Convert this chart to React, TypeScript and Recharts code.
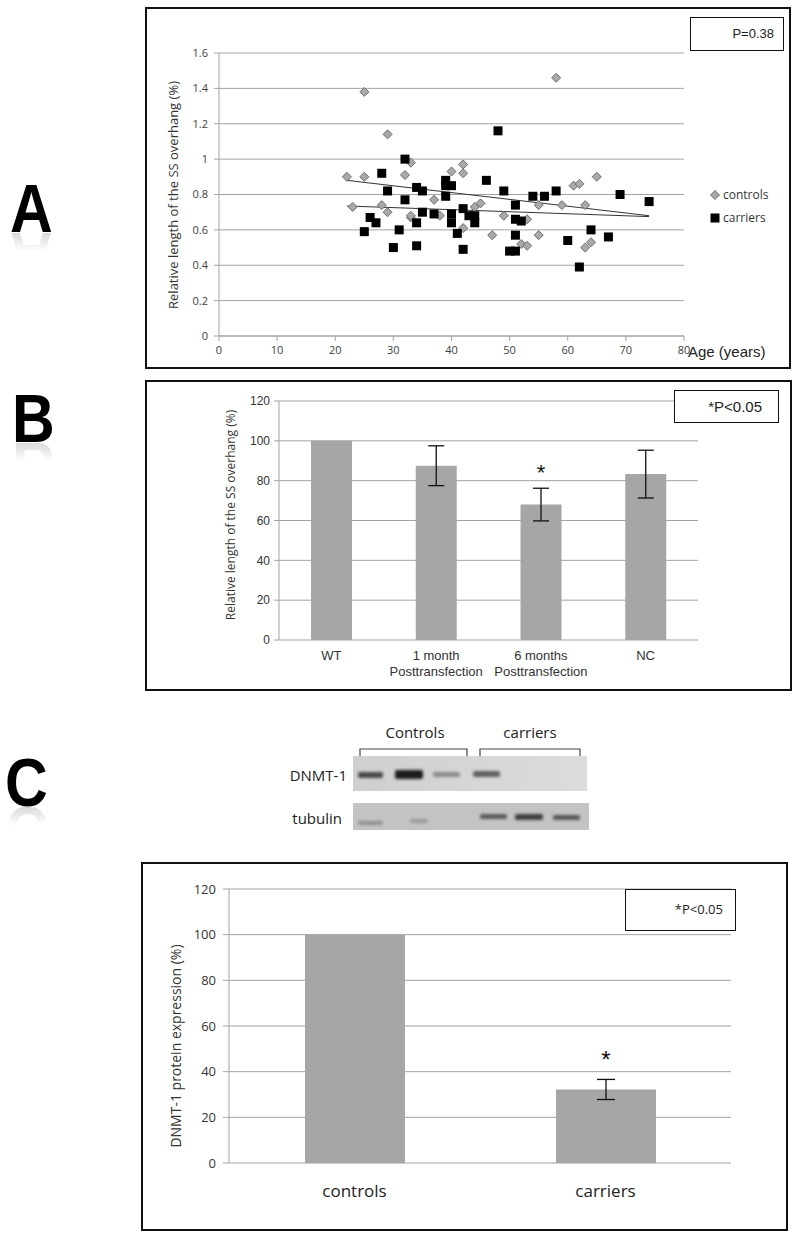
import React from 'react';
import {
  ComposedChart, BarChart, Bar, Scatter, Line, XAxis, YAxis,
  CartesianGrid, ErrorBar, LabelList,
} from 'recharts';

// Panel A: age vs relative SS overhang length
const controlAges = [22, 23, 25, 25, 28, 29, 29, 32, 33, 33, 33, 37, 38, 40, 42, 42, 42, 44, 45, 47, 49, 52, 53, 53, 55, 55, 58, 59, 61, 62, 63, 63, 64, 65];
const controlLengths = [0.9, 0.73, 0.9, 1.38, 0.74, 1.14, 0.7, 0.91, 0.98, 0.67, 0.68, 0.77, 0.68, 0.93, 0.97, 0.92, 0.61, 0.73, 0.75, 0.57, 0.68, 0.52, 0.51, 0.66, 0.74, 0.57, 1.46, 0.74, 0.85, 0.86, 0.74, 0.5, 0.53, 0.9];
const carrierAges = [25, 26, 27, 28, 29, 30, 31, 32, 32, 34, 34, 34, 35, 35, 37, 39, 39, 39, 40, 40, 40, 41, 42, 42, 43, 44, 44, 46, 48, 49, 50, 51, 51, 51, 51, 52, 54, 56, 58, 60, 62, 64, 67, 69, 74];
const carrierLengths = [0.59, 0.67, 0.64, 0.92, 0.82, 0.5, 0.6, 1.0, 0.77, 0.84, 0.64, 0.51, 0.82, 0.7, 0.69, 0.88, 0.85, 0.79, 0.85, 0.69, 0.64, 0.58, 0.72, 0.49, 0.68, 0.64, 0.68, 0.88, 1.16, 0.82, 0.48, 0.48, 0.74, 0.66, 0.57, 0.65, 0.79, 0.79, 0.82, 0.54, 0.39, 0.6, 0.56, 0.8, 0.76];
const trendAges = [22, 74];
const controlTrend = [0.88, 0.68];
const carrierTrend = [0.735, 0.675];
const ageTicks = [0, 10, 20, 30, 40, 50, 60, 70, 80];
const lengthTicks = [0, 0.2, 0.4, 0.6, 0.8, 1, 1.2, 1.4, 1.6];

// Panel B: transfection
const transfectionGroups = ['WT', '1 month\nPosttransfection', '6 months\nPosttransfection', 'NC'];
const transfectionMeans = [100, 87.5, 68, 83.3];
const transfectionErrors = [0, 10, 8.2, 12];
const transfectionMarks = ['', '', '*', ''];
const groupEdgesB = [0, 1, 2, 3, 4];

// Panel C: DNMT-1 protein
const proteinGroups = ['controls', 'carriers'];
const proteinMeans = [100, 32.2];
const proteinErrors = [0, 4.4];
const proteinMarks = ['', '*'];
const groupEdgesC = [0, 1, 2];
const percentTicks = [0, 20, 40, 60, 80, 100, 120];

const pairUp = (xs: number[], ys: number[]) => xs.map((age, i) => ({ age, len: ys[i] }));
const controls = pairUp(controlAges, controlLengths);
const carriers = pairUp(carrierAges, carrierLengths);
const controlFit = pairUp(trendAges, controlTrend);
const carrierFit = pairUp(trendAges, carrierTrend);

const transfectionData = transfectionGroups.map((name, i) => ({
  name, mean: transfectionMeans[i], err: transfectionErrors[i], mark: transfectionMarks[i],
}));
const proteinData = proteinGroups.map((name, i) => ({
  name, mean: proteinMeans[i], err: proteinErrors[i], mark: proteinMarks[i],
}));

const SANS = "'Open Sans', 'Noto Sans', sans-serif";
const ARIAL = "'Liberation Sans', Arial, sans-serif";
const NARROW = "'Liberation Sans Narrow', 'Liberation Sans', sans-serif";
const GRID = '#a3a3a3';
const BAR = '#a6a6a6';

const Diamond = ({ cx, cy }: any) => (
  <polygon
    points={`${cx},${cy - 4.5} ${cx + 4.5},${cy} ${cx},${cy + 4.5} ${cx - 4.5},${cy}`}
    fill="#a9a9a9" stroke="#6e6e6e" strokeWidth={1}
  />
);
const Square = ({ cx, cy }: any) => (
  <rect x={cx - 4.5} y={cy - 4.5} width={9} height={9} fill="#000" />
);

const box = (left: number, top: number, width: number, height: number, border = 2): React.CSSProperties => ({
  position: 'absolute', left, top, width, height, border: `${border}px solid #111`,
  boxSizing: 'border-box', background: '#fff',
});

const vTitle = (cx: number, cy: number, size: number): React.CSSProperties => ({
  position: 'absolute', left: cx, top: cy, transform: 'translate(-50%, -50%) rotate(-90deg)',
  whiteSpace: 'nowrap', fontFamily: SANS, fontSize: size, color: '#333', lineHeight: 1,
});

// big panel letter with a faded mirror image underneath
const PanelLetter = ({ letter, left, baseline }: { letter: string; left: number; baseline: number }) => (
  <div
    style={{
      position: 'absolute', left, top: baseline - 58, fontFamily: ARIAL, fontWeight: 'bold',
      fontSize: 68, lineHeight: '68px', color: '#000', transform: 'scaleX(0.87)', transformOrigin: 'left top',
      WebkitBoxReflect: 'below -19px linear-gradient(transparent 58%, rgba(0,0,0,0.22))',
    } as React.CSSProperties}
  >
    {letter}
  </div>
);

const TwoLineTick = ({ x, y, payload }: any) => {
  const lines = String(payload.value).split('\n');
  return (
    <text x={x} y={y} textAnchor="middle" fill="#333" fontSize={13} fontFamily={NARROW}>
      {lines.map((line, i) => (
        <tspan key={i} x={x} dy={i === 0 ? '0.71em' : '1.2em'}>{line}</tspan>
      ))}
    </text>
  );
};

const starLabel = (lift: number, size: number) => (props: any) => {
  const { x, y, width, value } = props;
  if (!value) return null;
  return (
    <text x={x + width / 2} y={y - lift} textAnchor="middle" fontFamily={ARIAL} fontSize={size} fill="#111">
      {value}
    </text>
  );
};

const PanelA = () => (
  <>
    <div style={box(145, 7, 646, 362)}>
      <ComposedChart width={642} height={358} margin={{ top: 44, right: 105, bottom: 6, left: 32 }}>
        <CartesianGrid vertical={false} stroke={GRID} />
        <XAxis
          type="number" dataKey="age" domain={[0, 80]} ticks={ageTicks} interval={0}
          tickSize={5} tickMargin={5} height={25}
          axisLine={{ stroke: GRID }} tickLine={{ stroke: GRID }}
          tick={{ fill: '#404040', fontSize: 11, fontFamily: SANS }}
        />
        <YAxis
          type="number" dataKey="len" domain={[0, 1.6]} ticks={lengthTicks} interval={0} width={40}
          tickSize={5} tickMargin={6}
          axisLine={{ stroke: GRID }} tickLine={{ stroke: GRID }}
          tick={{ fill: '#404040', fontSize: 11, fontFamily: SANS }}
        />
        <Scatter name="controls" data={controls} shape={<Diamond />} isAnimationActive={false} />
        <Scatter name="carriers" data={carriers} shape={<Square />} isAnimationActive={false} />
        <Line data={controlFit} dataKey="len" stroke="#333" strokeWidth={1} dot={false} isAnimationActive={false} />
        <Line data={carrierFit} dataKey="len" stroke="#333" strokeWidth={1} dot={false} isAnimationActive={false} />
      </ComposedChart>
    </div>
    <div style={vTitle(173, 195, 13)}>Relative length of the SS overhang (%)</div>
    <div style={{ position: 'absolute', left: 688, top: 343, fontFamily: ARIAL, fontSize: 15, color: '#222' }}>Age (years)</div>
    <div style={{ ...box(690, 17, 94, 34, 1), fontFamily: ARIAL, fontSize: 13, color: '#222', textAlign: 'right', paddingRight: 9, lineHeight: '32px' }}>P=0.38</div>
    <div style={{ position: 'absolute', left: 709, top: 183, fontFamily: SANS, fontSize: 12, color: '#333', lineHeight: '23px' }}>
      <div style={{ display: 'flex', alignItems: 'center' }}>
        <svg width={12} height={12}><Diamond cx={6} cy={6} /></svg>
        <span style={{ marginLeft: 2 }}>controls</span>
      </div>
      <div style={{ display: 'flex', alignItems: 'center' }}>
        <svg width={12} height={12}><Square cx={6} cy={6} /></svg>
        <span style={{ marginLeft: 2 }}>carriers</span>
      </div>
    </div>
  </>
);

const PanelB = () => (
  <>
    <div style={box(145, 380, 647, 311)}>
      <BarChart width={643} height={307} data={transfectionData} margin={{ top: 19, right: 92, bottom: 9, left: 102 }}>
        <CartesianGrid vertical={false} stroke={GRID} />
        <XAxis
          xAxisId="edge" type="number" domain={[0, 4]} ticks={groupEdgesB} allowDataOverflow
          height={0} tick={false} tickSize={5} axisLine={{ stroke: GRID }} tickLine={{ stroke: GRID }}
        />
        <XAxis
          dataKey="name" interval={0} height={40} axisLine={false} tickLine={false}
          tickSize={0} tickMargin={11} tick={<TwoLineTick />}
        />
        <YAxis
          domain={[0, 120]} ticks={percentTicks} interval={0} width={30}
          tickSize={5} tickMargin={4}
          axisLine={{ stroke: GRID }} tickLine={{ stroke: GRID }}
          tick={{ fill: '#333', fontSize: 12, fontFamily: NARROW }}
        />
        <Bar dataKey="mean" fill={BAR} barSize={41} isAnimationActive={false}>
          <ErrorBar dataKey="err" width={8} stroke="#111" strokeWidth={1.3} direction="y" />
          <LabelList dataKey="mark" content={starLabel(25, 22)} />
        </Bar>
      </BarChart>
    </div>
    <div style={vTitle(231, 515, 12)}>Relative length of the SS overhang (%)</div>
    <div style={{ ...box(674, 390, 105, 33, 1), fontFamily: ARIAL, fontSize: 15, color: '#222', textAlign: 'right', paddingRight: 16, lineHeight: '31px' }}>*P&lt;0.05</div>
  </>
);

const Blot = () => (
  <svg style={{ position: 'absolute', left: 250, top: 715 }} width={360} height={125}>
    <defs>
      <filter id="soft" x="-20%" y="-50%" width="140%" height="200%">
        <feGaussianBlur stdDeviation="1.4" />
      </filter>
      <linearGradient id="stripTop" x1="0" y1="0" x2="1" y2="0">
        <stop offset="0" stopColor="#cfcfcf" />
        <stop offset="1" stopColor="#dcdcdc" />
      </linearGradient>
    </defs>
    <g fontFamily={SANS} fontSize={15} fill="#222">
      <text x={165} y={23} textAnchor="middle">Controls</text>
      <text x={280} y={23} textAnchor="middle">carriers</text>
      <text x={97} y={66} textAnchor="end">DNMT-1</text>
      <text x={92} y={109} textAnchor="end">tubulin</text>
    </g>
    <path d="M110 42 V34 H217 V42" fill="none" stroke="#444" strokeWidth={1.2} />
    <path d="M230 42 V34 H330 V42" fill="none" stroke="#444" strokeWidth={1.2} />
    <rect x={103} y={41} width={234} height={35} fill="url(#stripTop)" />
    <rect x={103} y={88} width={236} height={27} fill="#c3c3c3" />
    <g filter="url(#soft)">
      <rect x={108} y={57} width={25} height={6} rx={2} fill="#4a4a4a" />
      <rect x={145} y={55} width={28} height={9} rx={2} fill="#1c1c1c" />
      <rect x={183} y={57} width={27} height={5} rx={2} fill="#8a8a8a" />
      <rect x={223} y={56} width={27} height={6} rx={2} fill="#5e5e5e" />
      <rect x={108} y={106} width={25} height={4} rx={2} fill="#8f8f8f" />
      <rect x={160} y={104} width={18} height={4} rx={2} fill="#9a9a9a" />
      <rect x={230} y={99} width={27} height={5} rx={2} fill="#5a5a5a" />
      <rect x={265} y={99} width={28} height={6} rx={2} fill="#3e3e3e" />
      <rect x={303} y={100} width={27} height={5} rx={2} fill="#555" />
    </g>
  </svg>
);

const PanelC = () => (
  <>
    <div style={box(141, 862, 647, 369)}>
      <BarChart width={643} height={365} data={proteinData} margin={{ top: 25, right: 55, bottom: 16, left: 50 }}>
        <CartesianGrid vertical={false} stroke={GRID} />
        <XAxis
          xAxisId="edge" type="number" domain={[0, 2]} ticks={groupEdgesC} allowDataOverflow
          height={0} tick={false} tickSize={6} axisLine={{ stroke: GRID }} tickLine={{ stroke: GRID }}
        />
        <XAxis
          dataKey="name" interval={0} height={50} axisLine={false} tickLine={false}
          tickSize={0} tickMargin={22}
          tick={{ fill: '#222', fontSize: 17, fontFamily: SANS }}
        />
        <YAxis
          domain={[0, 120]} ticks={percentTicks} interval={0} width={36}
          tickSize={6} tickMargin={7}
          axisLine={{ stroke: GRID }} tickLine={{ stroke: GRID }}
          tick={{ fill: '#333', fontSize: 13, fontFamily: SANS }}
        />
        <Bar dataKey="mean" fill={BAR} barSize={100} isAnimationActive={false}>
          <ErrorBar dataKey="err" width={9} stroke="#111" strokeWidth={1.3} direction="y" />
          <LabelList dataKey="mark" content={starLabel(21, 24)} />
        </Bar>
      </BarChart>
    </div>
    <div style={vTitle(176, 1046, 14)}>DNMT-1 protein expression (%)</div>
    <div style={{ ...box(625, 889, 111, 42, 1.5), fontFamily: SANS, fontSize: 13, color: '#222', textAlign: 'right', paddingRight: 12, lineHeight: '39px' }}>*P&lt;0.05</div>
  </>
);

export default function App() {
  return (
    <div style={{ position: 'absolute', left: 0, top: 0, width: 800, height: 1237, background: '#fff' }}>
      <PanelLetter letter="A" left={10} baseline={232} />
      <PanelLetter letter="B" left={12} baseline={442} />
      <PanelLetter letter="C" left={5} baseline={806} />
      <PanelA />
      <PanelB />
      <Blot />
      <PanelC />
    </div>
  );
}
